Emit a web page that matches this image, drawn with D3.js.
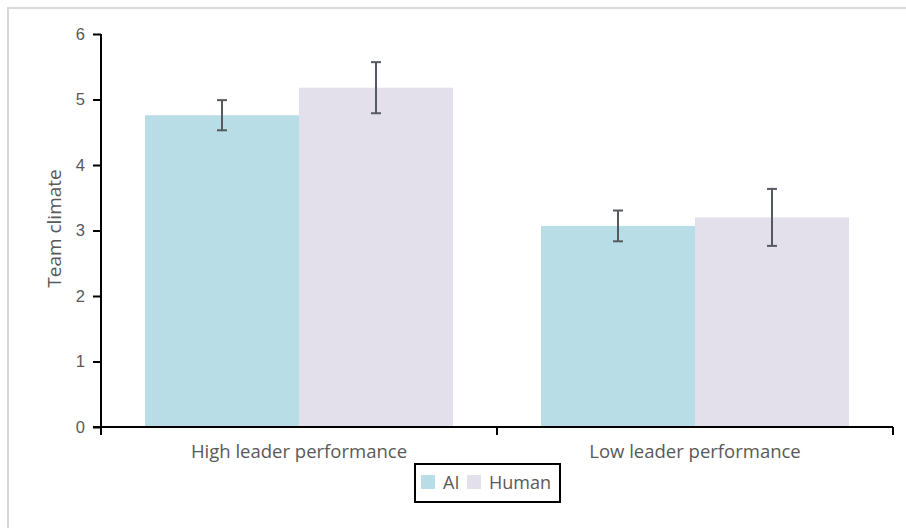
<!DOCTYPE html>
<html>
<head>
<meta charset="utf-8">
<script src="https://cdn.jsdelivr.net/npm/d3@7"></script>
<style>
  html, body { margin: 0; padding: 0; background: #fff; }
  svg { display: block; font-family: "Open Sans", "Noto Sans", sans-serif; }
</style>
</head>
<body>
<svg id="chart" width="906" height="528"></svg>
<script>
const categories = ["High leader performance", "Low leader performance"];
const seriesNames = ["AI", "Human"];
const aiValues = [4.76, 3.07];
const aiErrors = [0.23, 0.235];
const humanValues = [5.18, 3.20];
const humanErrors = [0.39, 0.435];
const yTicks = [0, 1, 2, 3, 4, 5, 6];
const colors = ["#b8dde6", "#e3dfeb"];

const svg = d3.select("#chart");
const x0 = 101, x1 = 893;
const yTop = 34, yBot = 427;

// outer frame
svg.append("rect").attr("x", 8).attr("y", 8).attr("width", 1000).attr("height", 1000)
  .attr("fill", "#fff").attr("stroke", "#d9d9d9").attr("stroke-width", 2);

const x = d3.scaleBand().domain(categories).range([x0, x1]).paddingInner(0).paddingOuter(0);
const xs = d3.scaleBand().domain(seriesNames).range([0, x.bandwidth()]).paddingOuter(0.286).paddingInner(0);
const y = d3.scaleLinear().domain([0, 6]).range([yBot, yTop]);

const data = categories.map((c, i) => ({
  cat: c,
  vals: [
    { s: "AI", v: aiValues[i], e: aiErrors[i], c: colors[0] },
    { s: "Human", v: humanValues[i], e: humanErrors[i], c: colors[1] }
  ]
}));

const g = svg.append("g");
const groups = g.selectAll("g.grp").data(data).join("g")
  .attr("transform", d => `translate(${x(d.cat)},0)`);

groups.selectAll("rect").data(d => d.vals).join("rect")
  .attr("x", d => xs(d.s)).attr("width", xs.bandwidth())
  .attr("y", d => y(d.v)).attr("height", d => y(0) - y(d.v))
  .attr("fill", d => d.c);

// error bars
const cx = d => xs(d.s) + xs.bandwidth() / 2;
const eb = groups.selectAll("g.eb").data(d => d.vals).join("g").attr("class", "eb")
  .attr("stroke", "#555a60").attr("stroke-width", 2);
eb.append("line").attr("x1", cx).attr("x2", cx)
  .attr("y1", d => y(d.v + d.e)).attr("y2", d => y(d.v - d.e));
eb.append("line").attr("x1", d => cx(d) - 5).attr("x2", d => cx(d) + 5)
  .attr("y1", d => y(d.v + d.e)).attr("y2", d => y(d.v + d.e));
eb.append("line").attr("x1", d => cx(d) - 5).attr("x2", d => cx(d) + 5)
  .attr("y1", d => y(d.v - d.e)).attr("y2", d => y(d.v - d.e));

// y axis
const yAxis = svg.append("g").attr("transform", `translate(${x0},0)`)
  .call(d3.axisLeft(y).tickValues(yTicks).tickFormat(d3.format("d")).tickSize(8).tickPadding(8));
yAxis.select(".domain").attr("stroke", "#000").attr("stroke-width", 2).attr("d", `M0,${yTop}V${yBot + 8}`);
yAxis.selectAll(".tick line").attr("stroke", "#000").attr("stroke-width", 2);
yAxis.selectAll(".tick text").attr("fill", "#595959").style("font-size", "16.5px");

// x axis
const xAxis = svg.append("g").attr("transform", `translate(0,${yBot})`);
xAxis.append("line").attr("x1", x0 - 8).attr("x2", x1).attr("y1", 0).attr("y2", 0)
  .attr("stroke", "#000").attr("stroke-width", 2);
const bounds = [x0, ...categories.map(c => x(c) + x.bandwidth())];
xAxis.selectAll("line.t").data(bounds).join("line").attr("class", "t")
  .attr("x1", d => d).attr("x2", d => d).attr("y1", 0).attr("y2", 8)
  .attr("stroke", "#000").attr("stroke-width", 2);
xAxis.selectAll("text").data(categories).join("text")
  .attr("x", d => x(d) + x.bandwidth() / 2).attr("y", 31)
  .attr("text-anchor", "middle").attr("fill", "#595959").style("font-size", "18.5px")
  .text(d => d);

// y label
svg.append("text").attr("transform", `translate(61,${(yTop + yBot) / 2 - 2}) rotate(-90)`)
  .attr("text-anchor", "middle").attr("fill", "#595959").style("font-size", "19px")
  .text("Team climate");

// legend
const lg = svg.append("g").attr("transform", "translate(415,464)");
lg.append("rect").attr("width", 145).attr("height", 38).attr("fill", "#fff")
  .attr("stroke", "#000").attr("stroke-width", 2);
const items = [{ n: "AI", c: colors[0], x: 6 }, { n: "Human", c: colors[1], x: 52 }];
const li = lg.selectAll("g.li").data(items).join("g").attr("transform", d => `translate(${d.x},11)`);
li.append("rect").attr("width", 14).attr("height", 14).attr("fill", d => d.c);
li.append("text").attr("x", 22).attr("y", 14).attr("fill", "#595959").style("font-size", "18px").text(d => d.n);
</script>
</body>
</html>
